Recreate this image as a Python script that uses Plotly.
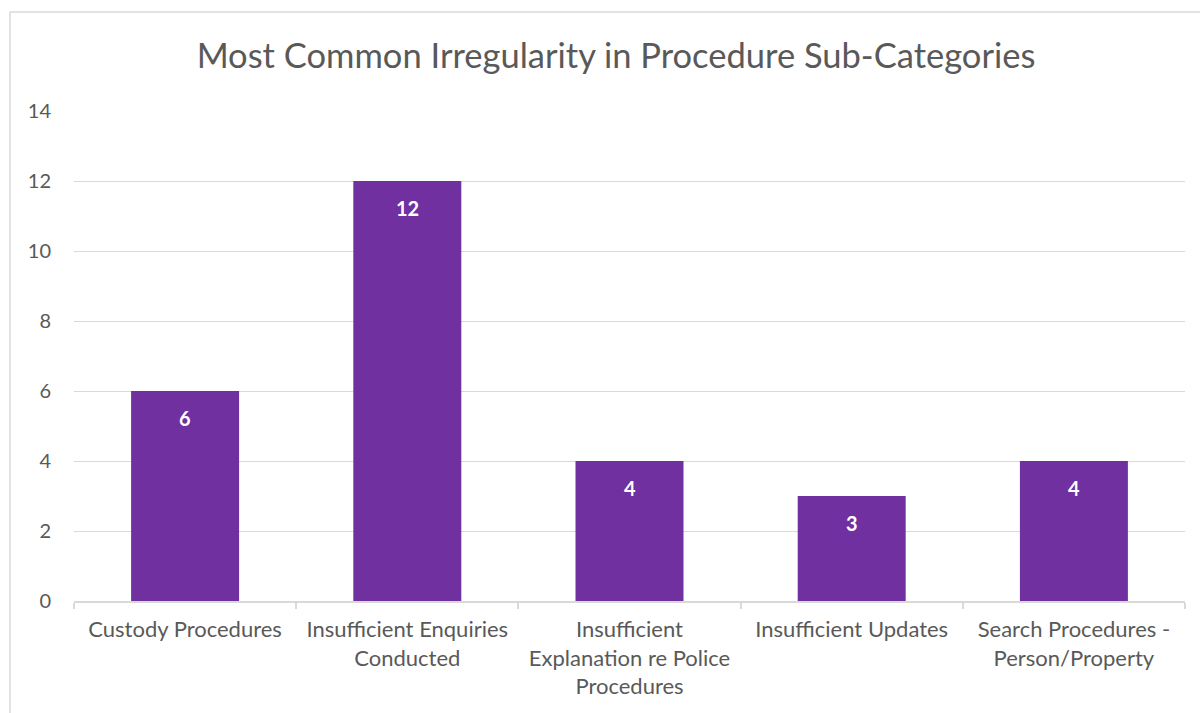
import plotly.graph_objects as go

categories = [
    "Custody Procedures",
    "Insufficient Enquiries<br>Conducted",
    "Insufficient<br>Explanation re Police<br>Procedures",
    "Insufficient Updates",
    "Search Procedures -<br>Person/Property",
]
values = [6, 12, 4, 3, 4]
y_ticks = [0, 2, 4, 6, 8, 10, 12, 14]

FONT = "Lato"
GREY = "#595959"
PURPLE = "#7030A0"

fig = go.Figure()
fig.add_trace(go.Bar(
    x=categories, y=values, marker=dict(color=PURPLE, line=dict(width=0)),
    hoverinfo="skip",
))

for c, v in zip(categories, values):
    fig.add_annotation(x=c, y=v, text=f"<b>{v}</b>", showarrow=False,
                       yanchor="middle", yshift=-27,
                       font=dict(family=FONT, size=20, color="white"))

L, R, T, B = 74, 15, 111, 112
W, H = 1200, 713
pw, ph = W - L - R, H - T - B

fig.add_shape(type="rect", xref="paper", yref="paper",
              x0=(10 - L) / pw, x1=1.5, y0=-1.0, y1=(H - B - 12) / ph,
              line=dict(color="#d9d9d9", width=1.5), fillcolor="rgba(0,0,0,0)", layer="below")

fig.update_layout(
    width=W, height=H,
    margin=dict(l=L, r=R, t=T, b=B),
    paper_bgcolor="white", plot_bgcolor="white",
    bargap=0.514,
    showlegend=False,
    title=dict(text="Most Common Irregularity in Procedure Sub-Categories",
               x=(616) / W, xanchor="center", y=1 - 56 / H, yanchor="middle",
               font=dict(family=FONT, size=34.5, color=GREY)),
    font=dict(family=FONT, color=GREY),
)
fig.update_yaxes(range=[0, 14], tickvals=y_ticks, showgrid=True, gridcolor="#d9d9d9",
                 gridwidth=1, zeroline=False, showline=False, ticks="",
                 tickfont=dict(family=FONT, size=20, color=GREY), ticklabelstandoff=22)
fig.update_xaxes(showline=True, linecolor="#d9d9d9", linewidth=1.5, ticks="outside",
                 tickson="boundaries", ticklen=6, tickcolor="#d9d9d9", tickwidth=1.5,
                 tickfont=dict(family=FONT, size=22, color=GREY), tickangle=0,
                 ticklabelstandoff=8)

fig.write_html("out.html")
